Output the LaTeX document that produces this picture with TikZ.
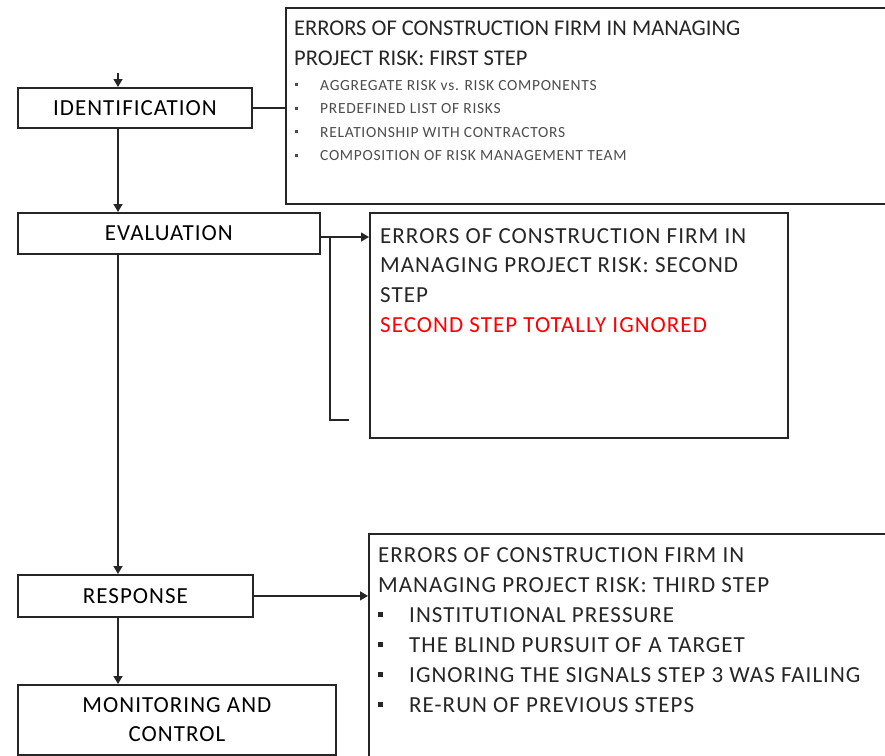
\documentclass[tikz,border=0pt]{standalone}
\usepackage{fontspec}
\setmainfont{Carlito}[LetterSpace=4.5]
\newfontfamily\tightf{Carlito}
\usetikzlibrary{arrows.meta}
\definecolor{ln}{HTML}{262626}
\definecolor{gtxt}{HTML}{4D4D4D}
\definecolor{redt}{HTML}{FF0000}
\newcommand{\sqb}{\rule[4pt]{3pt}{3pt}}
\newcommand{\bigsqb}{\rule[5pt]{5pt}{5pt}}
\begin{document}
\begin{tikzpicture}[x=1pt,y=-1pt,
  stagebox/.style={draw=ln, line width=1.8pt, rectangle, inner sep=0pt, anchor=north west, font=\fontsize{23}{29}\selectfont, align=center},
  errbox/.style={draw=ln, line width=1.8pt, rectangle, inner sep=0pt, anchor=north west},
  txt/.style={anchor=base west, inner sep=0pt, text=ln},
  conn/.style={draw=ln, line width=1.4pt},
  arr/.style={conn, -{Triangle[length=8pt,width=9pt]}}]
\useasboundingbox (0,0) rectangle (885,755);
\clip (0,0) rectangle (885,755);
\fill[white] (0,0) rectangle (885,755);

% stage boxes
\node[stagebox, minimum width=234pt, minimum height=40pt] (id) at (17,87) {IDENTIFICATION};
\node[stagebox, minimum width=302pt, minimum height=41pt] (ev) at (17,212) {EVALUATION};
\node[stagebox, minimum width=235pt, minimum height=42pt] (re) at (17,574) {RESPONSE};
\node[stagebox, minimum width=318pt, minimum height=70pt] (mc) at (17,684) {MONITORING AND\\CONTROL};

% error boxes
\node[errbox, minimum width=620pt, minimum height=196pt] (b1) at (285,7) {};
\node[errbox, minimum width=418pt, minimum height=225pt] (b2) at (369,212) {};
\node[errbox, minimum width=540pt, minimum height=260pt] (b3) at (368,533) {};

% texts
\node[txt] (t1) at (294,35) {\tightf\fontsize{22.5}{30}\selectfont\vtop{%
\hbox{ERRORS OF CONSTRUCTION FIRM IN MANAGING}
\hbox{PROJECT RISK: FIRST STEP}}};
\node[txt, text=gtxt] (l1) at (295,90) {\fontsize{15.5}{23.5}\selectfont\vtop{%
\hbox{\makebox[25pt][l]{\sqb}AGGREGATE RISK vs. RISK COMPONENTS}
\hbox{\makebox[25pt][l]{\sqb}PREDEFINED LIST OF RISKS}
\hbox{\makebox[25pt][l]{\sqb}RELATIONSHIP WITH CONTRACTORS}
\hbox{\makebox[25pt][l]{\sqb}COMPOSITION OF RISK MANAGEMENT TEAM}}};

\node[txt] (t2) at (380,243) {\fontsize{23}{29.7}\selectfont\vtop{%
\hbox{ERRORS OF CONSTRUCTION FIRM IN}
\hbox{MANAGING PROJECT RISK: SECOND}
\hbox{STEP}
\hbox{\textcolor{redt}{SECOND STEP TOTALLY IGNORED}}}};

\node[txt] (t3) at (378,562) {\fontsize{23}{30}\selectfont\vtop{%
\hbox{ERRORS OF CONSTRUCTION FIRM IN}
\hbox{MANAGING PROJECT RISK: THIRD STEP}
\hbox{\makebox[31pt][l]{\bigsqb}INSTITUTIONAL PRESSURE}
\hbox{\makebox[31pt][l]{\bigsqb}THE BLIND PURSUIT OF A TARGET}
\hbox{\makebox[31pt][l]{\bigsqb}IGNORING THE SIGNALS STEP 3 WAS FAILING}
\hbox{\makebox[31pt][l]{\bigsqb}RE-RUN OF PREVIOUS STEPS}}};

% connectors
\coordinate (top) at (118,73);
\coordinate (br1) at (330,237);
\coordinate (br2) at (349,420);
\draw[arr] (top) -- (top |- id.north);
\draw[arr] (top |- id.south) -- (top |- ev.north);
\draw[arr] (top |- ev.south) -- (top |- re.north);
\draw[arr] (top |- re.south) -- (top |- mc.north);
\draw[conn] (id.east) -- (b1.west |- id.east);
\draw[arr] (ev.east |- br1) -- (b2.west |- br1);
\draw[conn] (br1) |- (br2);
\draw[arr] (re.east) -- (b3.west |- re.east);
\end{tikzpicture}
\end{document}
